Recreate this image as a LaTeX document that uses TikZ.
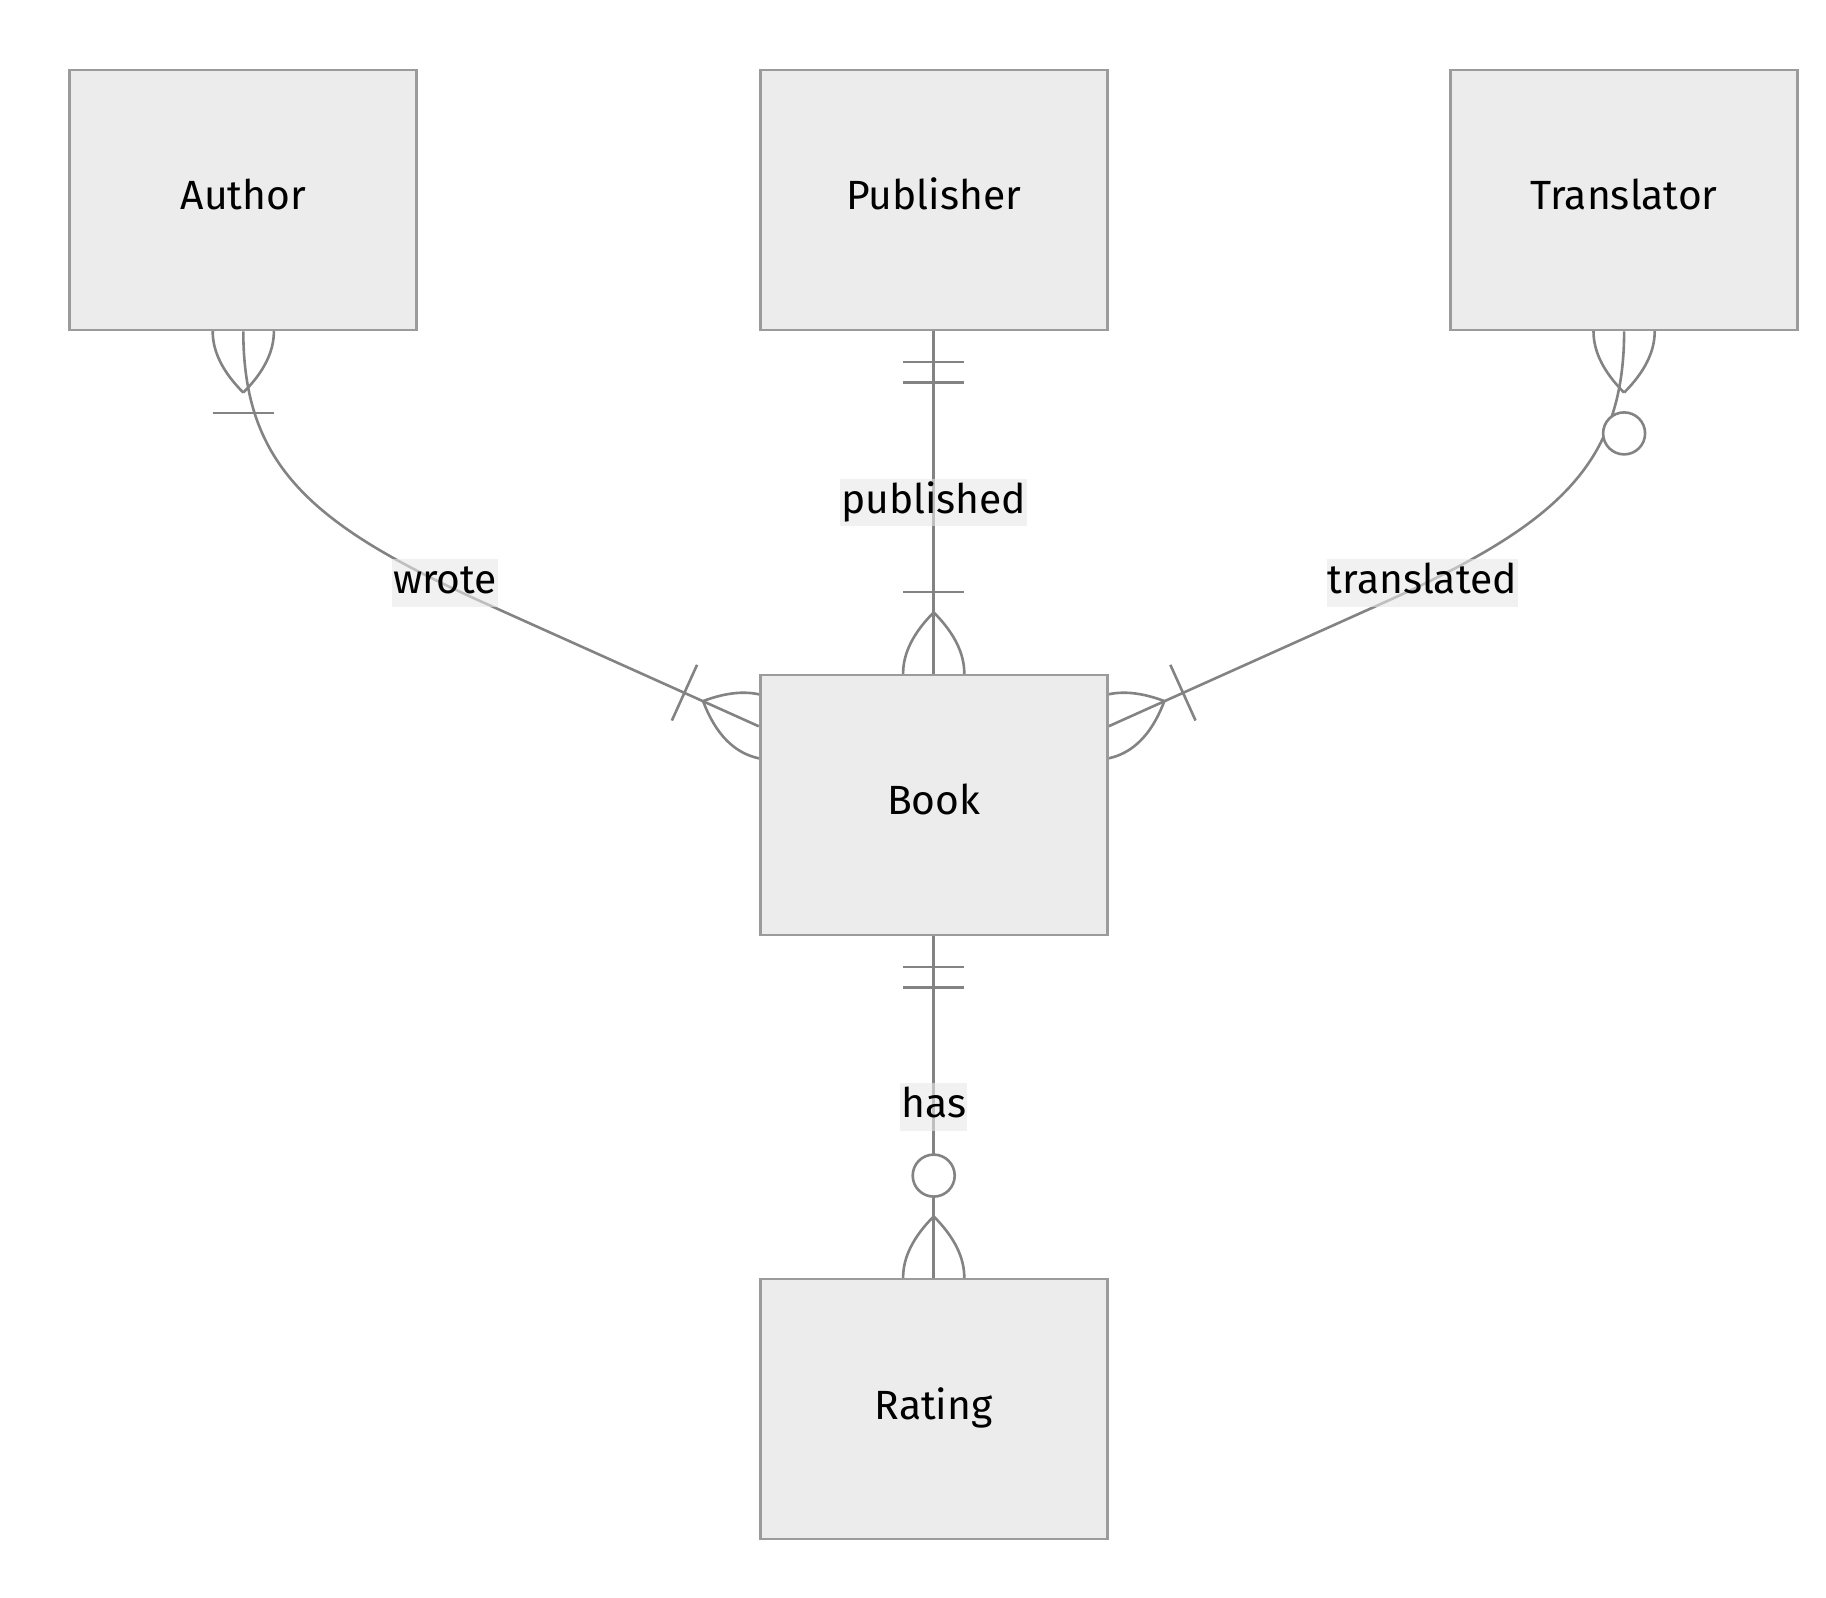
\documentclass[tikz,border=0pt]{standalone}
\usepackage{fontspec}
\setmainfont{Fira Sans}
\usetikzlibrary{calc}
\pgfdeclarelayer{edges}
\pgfsetlayers{edges,main}
\definecolor{boxfill}{HTML}{ECECEC}
\definecolor{boxline}{HTML}{9B9B9B}
\definecolor{edgecol}{HTML}{838383}
\definecolor{lblfill}{HTML}{E8E8E8}
\tikzset{
  entity/.style={draw=boxline, fill=boxfill, line width=1.4pt, minimum width=173.5pt, minimum height=130pt,
    inner sep=0pt, font=\fontsize{20.4pt}{24pt}\selectfont, text height=14pt, text depth=4pt},
  erline/.style={draw=edgecol, line width=1.3pt},
  lbl/.style={fill=lblfill, fill opacity=0.6, text opacity=1, inner xsep=0.5pt, inner ysep=1.9pt,
    font=\fontsize{20.4pt}{24pt}\selectfont, text height=15.5pt, text depth=4.5pt}
}
% crow's-foot lens: #1 end point, #2 #3 outward unit vector (quadratic lens as cubics)
\newcommand\erLens[3]{%
  \path ($(#1)+({61.2*(#2)},{61.2*(#3)})$) coordinate (erT)
        ($(#1)+({-61.2*(#2)},{-61.2*(#3)})$) coordinate (erB)
        ($(#1)+({20.4*(#2)-40.8*(#3)},{20.4*(#3)+40.8*(#2)})$) coordinate (erA1)
        ($(#1)+({-20.4*(#2)-40.8*(#3)},{-20.4*(#3)+40.8*(#2)})$) coordinate (erA2)
        ($(#1)+({-20.4*(#2)+40.8*(#3)},{-20.4*(#3)-40.8*(#2)})$) coordinate (erA3)
        ($(#1)+({20.4*(#2)+40.8*(#3)},{20.4*(#3)-40.8*(#2)})$) coordinate (erA4);
  \draw[erline] (erT) .. controls (erA1) and (erA2) .. (erB) .. controls (erA3) and (erA4) .. (erT);}
% bar across the line: #4 distance from end
\newcommand\erBar[4]{\draw[erline] ($(#1)+({(#4)*(#2)-30.6*(#3)},{(#4)*(#3)+30.6*(#2)})$) -- ($(#1)+({(#4)*(#2)+30.6*(#3)},{(#4)*(#3)-30.6*(#2)})$);}
% zero circle
\newcommand\erCirc[3]{\draw[erline, fill=white] ($(#1)+({102*(#2)},{102*(#3)})$) circle[radius=10.5pt];}
\begin{document}
\begin{tikzpicture}[x=0.5pt, y=-0.5pt]
\useasboundingbox (0,0) rectangle (1826,1598);
% entities
\node[entity] (auth) at (243.3,200) {Author};
\node[entity] (pub) at (933.7,200) {Publisher};
\node[entity] (tr) at (1624.1,200) {Translator};
\node[entity] (book) at (933.7,805) {Book};
\node[entity] (rat) at (933.7,1409) {Rating};
% attachment points on Book
\coordinate (bl) at ($(book.north west)+(0,52.7)$);
\coordinate (br) at ($(book.north east)+(0,52.7)$);
\coordinate (wq) at (480,601);
\coordinate (tq) at (1387.4,601);
\begin{pgfonlayer}{edges}
  \draw[erline] (auth.south) .. controls (243.3,465) and (311.5,524.8) .. (wq) -- (bl);
  \draw[erline] (tr.south) .. controls (1624.1,465) and (1555.9,524.8) .. (tq) -- (br);
  \draw[erline] (pub.south) -- (book.north);
  \draw[erline] (book.south) -- (rat.north);
  % Author end: one or more
  \erLens{auth.south}{0}{1}
  \erBar{auth.south}{0}{1}{81.6}
  % Book left: one or more
  \erLens{bl}{-0.911}{-0.412}
  \erBar{bl}{-0.911}{-0.412}{81.6}
  % Publisher end: only one
  \erBar{pub.south}{0}{1}{30.6}
  \erBar{pub.south}{0}{1}{51}
  % Book top: one or more
  \erLens{book.north}{0}{-1}
  \erBar{book.north}{0}{-1}{81.6}
  % Translator end: zero or more
  \erLens{tr.south}{0}{1}
  \erCirc{tr.south}{0}{1}
  % Book right: one or more
  \erLens{br}{0.911}{-0.412}
  \erBar{br}{0.911}{-0.412}{81.6}
  % Book bottom: only one
  \erBar{book.south}{0}{1}{30.6}
  \erBar{book.south}{0}{1}{51}
  % Rating top: zero or more
  \erLens{rat.north}{0}{-1}
  \erCirc{rat.north}{0}{-1}
\end{pgfonlayer}
% redraw entities above markers
\node[entity] at (auth) {Author};
\node[entity] at (pub) {Publisher};
\node[entity] at (tr) {Translator};
\node[entity] at (book) {Book};
\node[entity] at (rat) {Rating};
% labels
\node[lbl] (lw) at (445,583) {wrote};
\node[lbl] (lt) at (1422.4,583) {translated};
\node[lbl] (lp) at (933.7,502.5) {published};
\node[lbl] (lh) at (933.7,1106.7) {has};
\end{tikzpicture}
\end{document}
